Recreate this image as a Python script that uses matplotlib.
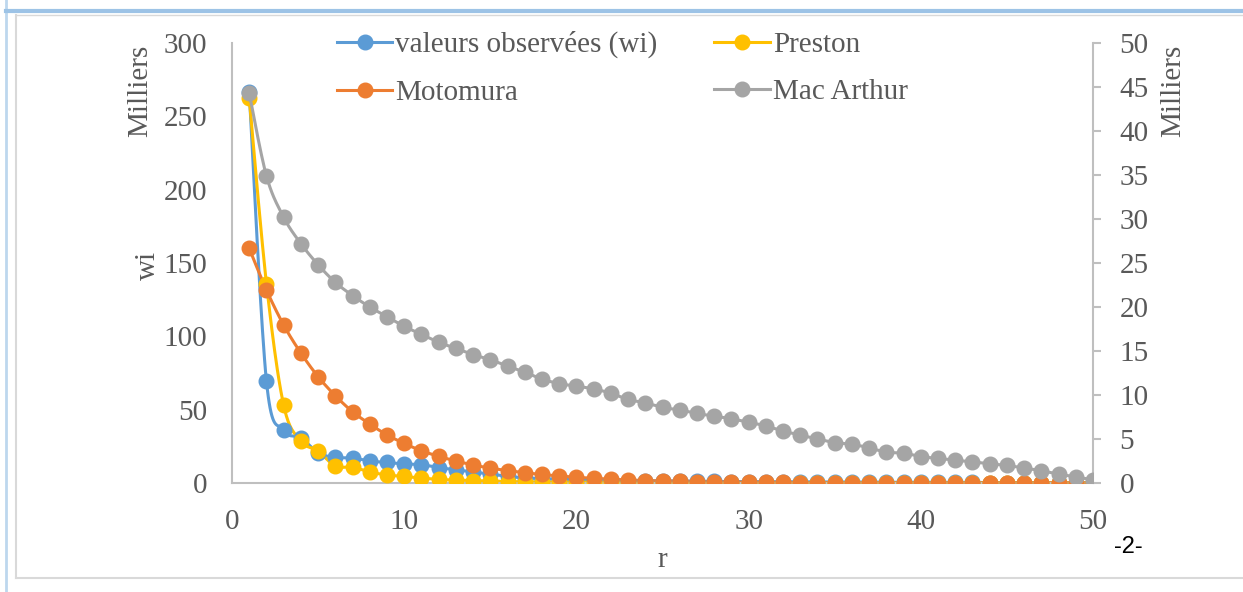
import matplotlib
matplotlib.use('Agg')
import matplotlib.pyplot as plt
from matplotlib.lines import Line2D
import numpy as np

plt.rcParams['font.family'] = ['Liberation Serif', 'DejaVu Serif']

# 数据（单位：千）
r = list(range(1, 51))
observed = [266.6, 69.5, 36, 31, 20.5, 17.5, 17, 15, 14, 13,
            12.5, 10.5, 9, 7.5, 6, 4.5, 3.5, 3, 2.6, 2.3,
            2.0, 1.8, 1.6, 1.5, 1.4, 1.3, 1.2, 1.1, 1.0, 0.9,
            0.9, 0.8, 0.8, 0.7, 0.7, 0.6, 0.6, 0.5, 0.5, 0.5,
            0.4, 0.4, 0.4, 0.3, 0.3, 0.3, 0.2, 0.2, 0.2, 0.1]
preston = [262.5, 136, 53, 28.6, 21.8, 11.5, 10.8, 7.5, 5.5, 4.5,
           3.4, 2.4, 2.0, 1.6, 1.3, 1.0, 0.8, 0.7, 0.6, 0.5,
           0.4, 0.35, 0.3, 0.25, 0.2, 0.2, 0.15, 0.15, 0.1, 0.1,
           0.1, 0.1, 0.1, 0.1, 0.1, 0.1, 0.1, 0.1, 0.1, 0.1,
           0.1, 0.1, 0.1, 0.1, 0.1, 0.1, 0.1, 0.1, 0.1, 0.1]
motomura = [160, 131.6, 107.7, 88.6, 72.5, 59.5, 48.6, 40.2, 32.8, 27,
            22, 18.2, 15, 12.3, 10.1, 8.5, 7, 5.8, 4.8, 3.9,
            3.2, 2.6, 2.1, 1.7, 1.4, 1.2, 1.0, 0.8, 0.65, 0.55,
            0.45, 0.37, 0.3, 0.25, 0.2, 0.17, 0.14, 0.11, 0.09, 0.08,
            0.06, 0.05, 0.04, 0.035, 0.03, 0.02, 0.02, 0.015, 0.01, 0.01]
mac_arthur = [44.3, 34.9, 30.2, 27.2, 24.8, 22.8, 21.3, 20.0, 18.9, 17.8,
              16.9, 16.0, 15.3, 14.6, 14.0, 13.3, 12.6, 11.8, 11.3, 11.0,
              10.7, 10.2, 9.5, 9.1, 8.6, 8.3, 7.9, 7.6, 7.3, 6.9,
              6.5, 5.9, 5.45, 5.0, 4.6, 4.4, 4.0, 3.5, 3.4, 3.0,
              2.8, 2.6, 2.4, 2.2, 2.0, 1.7, 1.4, 1.0, 0.7, 0.35]

C_BLUE, C_ORANGE, C_GRAY, C_YELLOW = '#5B9BD5', '#ED7D31', '#A5A5A5', '#FFC000'
TXT = '#595959'
AX = '#BFBFBF'


def smooth(x, y, n=20):
    # 类似 Excel 的平滑线（Catmull-Rom -> Bezier）
    x = np.asarray(x, float)
    y = np.asarray(y, float)
    px = np.concatenate([[x[0]], x, [x[-1]]])
    py = np.concatenate([[y[0]], y, [y[-1]]])
    t = np.linspace(0, 1, n)[:, None]
    xs, ys = [], []
    for i in range(1, len(px) - 2):
        p0 = np.array([px[i - 1], py[i - 1]])
        p1 = np.array([px[i], py[i]])
        p2 = np.array([px[i + 1], py[i + 1]])
        p3 = np.array([px[i + 2], py[i + 2]])
        c1 = p1 + (p2 - p0) / 6
        c2 = p2 - (p3 - p1) / 6
        b = ((1 - t) ** 3) * p1 + 3 * ((1 - t) ** 2) * t * c1 + 3 * (1 - t) * t ** 2 * c2 + t ** 3 * p2
        xs.append(b[:, 0])
        ys.append(b[:, 1])
    return np.concatenate(xs), np.concatenate(ys)


fig = plt.figure(figsize=(12.43, 5.92), dpi=100)
ax = fig.add_axes([232 / 1243, 1 - 483 / 592, (1093 - 232) / 1243, 440 / 592])
ax2 = ax.twinx()

lw, ms = 2.2, 10.5
for vals, col in [(observed, C_BLUE), (preston, C_YELLOW), (motomura, C_ORANGE)]:
    sx, sy = smooth(r, vals)
    ax.plot(sx, sy, color=col, lw=lw, solid_capstyle='round', zorder=2)
    ax.plot(r, vals, 'o', color=col, ms=ms, zorder=3)
sx, sy = smooth(r, mac_arthur)
ax2.plot(sx, sy, color=C_GRAY, lw=lw, solid_capstyle='round', zorder=2)
ax2.plot(r, mac_arthur, 'o', color=C_GRAY, ms=ms, zorder=3)

ax.set_xlim(0, 50)
ax.set_ylim(0, 300)
ax2.set_ylim(0, 50)
ax.set_xticks(range(0, 51, 10))
ax.set_yticks(range(0, 301, 50))
ax2.set_yticks(range(0, 51, 5))

for a in (ax, ax2):
    for s in a.spines.values():
        s.set_visible(False)
ax.spines['left'].set_visible(True)
ax.spines['bottom'].set_visible(True)
ax2.spines['right'].set_visible(True)
for s in ('left', 'bottom'):
    ax.spines[s].set_color(AX)
    ax.spines[s].set_linewidth(1.5)
ax2.spines['right'].set_color(AX)
ax2.spines['right'].set_linewidth(1.5)

fs = 21
ax.tick_params(axis='y', length=0, pad=18, labelsize=fs, labelcolor=TXT)
ax.tick_params(axis='x', length=0, pad=19, labelsize=fs, labelcolor=TXT)
ax2.tick_params(axis='y', length=6, width=1.5, color=AX, pad=13, labelsize=fs, labelcolor=TXT)

fig.text(148 / 1243, 1 - 265 / 592, 'wi', rotation=90, ha='center', va='center', fontsize=fs, color=TXT)
fig.text(140 / 1243, 1 - 91 / 592, 'Milliers', rotation=90, ha='center', va='center', fontsize=fs, color=TXT)
fig.text(1173 / 1243, 1 - 91 / 592, 'Milliers', rotation=90, ha='center', va='center', fontsize=fs, color=TXT)
fig.text(662 / 1243, 1 - 560 / 592, 'r', ha='center', va='center', fontsize=fs, color=TXT)

handles = [Line2D([], [], color=c, lw=lw, marker='o', ms=ms) for c in (C_BLUE, C_YELLOW, C_ORANGE, C_GRAY)]
labels = ['valeurs observées (wi)', 'Preston', 'Motomura', 'Mac Arthur']
# 图例按列排列: 第一列 observed/Motomura, 第二列 Preston/Mac Arthur
order = [0, 2, 1, 3]
leg = fig.legend([handles[i] for i in order], [labels[i] for i in order], ncol=2,
                 loc='upper left', bbox_to_anchor=(337 / 1243, 1 - 31 / 592),
                 frameon=False, fontsize=fs, handlelength=1.9, handletextpad=0.1,
                 columnspacing=1.95, labelspacing=0.72, borderpad=0, borderaxespad=0)
for t in leg.get_texts():
    t.set_color(TXT)

# 页面边框
fig.add_artist(Line2D([6 / 1243, 6 / 1243], [0, 1], color='#BDD7EE', lw=2))
fig.add_artist(Line2D([6 / 1243, 1], [1 - 11 / 592] * 2, color='#9DC3E6', lw=3))
fig.add_artist(Line2D([16 / 1243, 1], [1 - 15 / 592] * 2, color='#D9D9D9', lw=1))
fig.add_artist(Line2D([16 / 1243, 1], [1 - 578 / 592] * 2, color='#D9D9D9', lw=1.5))
fig.add_artist(Line2D([16 / 1243, 16 / 1243], [1 - 578 / 592, 1 - 15 / 592], color='#D9D9D9', lw=1.5))
fig.text(1128 / 1243, 1 - 547 / 592, '-2-', ha='center', va='center', fontsize=17,
         color='black', family=['Liberation Sans', 'DejaVu Sans'])

fig.savefig('out.png', dpi=100)
